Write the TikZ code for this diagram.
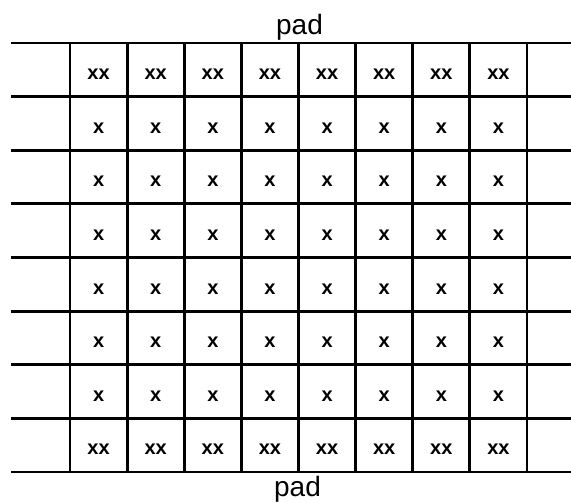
\documentclass[tikz,border=0pt]{standalone}
\usepackage{fontspec}
\setmainfont{Liberation Sans}
\tikzset{
  gridline/.style={line width=2.8pt, black},
  cell/.style={font=\fontsize{20}{20}\selectfont\bfseries, inner sep=0pt},
  padlabel/.style={font=\fontsize{28}{28}\selectfont, inner sep=0pt, anchor=base}
}
\begin{document}
\begin{tikzpicture}[x=1pt, y=-1pt]
  \useasboundingbox (0,0) rectangle (571,503);
  % row lines
  \foreach \r in {0,...,8}{\draw[gridline] (11,43+53.625*\r) -- (575,43+53.625*\r);}
  % column lines
  \foreach \c in {0,...,8}{\draw[gridline] (70+57.125*\c,43) -- (70+57.125*\c,472);}
  % cell marks, double in first and last row
  \foreach \r in {1,...,8}{
    \foreach \c in {1,...,8}{
      \ifnum\r=1 \def\mk{xx}\else\ifnum\r=8 \def\mk{xx}\else\def\mk{x}\fi\fi
      \node[cell] (c-\r-\c) at (70+57.125*\c-28.56, 43+53.625*\r-22.3) {\mk};
    }
  }
  \node[padlabel] (padtop) at (299.5,35) {pad};
  \node[padlabel] (padbot) at (297.5,496) {pad};
\end{tikzpicture}
\end{document}
